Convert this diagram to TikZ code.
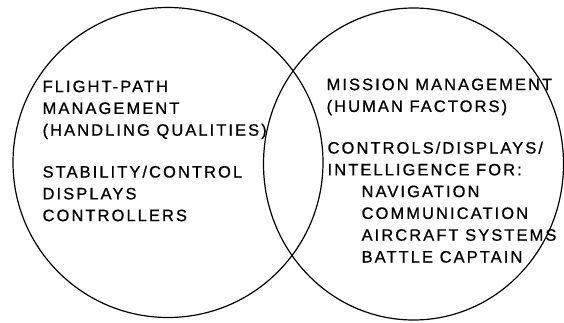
\documentclass[tikz,border=0pt]{standalone}
\usepackage{fontspec}
\setmainfont{Liberation Sans}[LetterSpace=12.5, FakeBold=0.8]
\begin{document}
\begin{tikzpicture}[x=1pt, y=-1pt, line width=1.2pt,
    every node/.style={inner sep=0pt, anchor=north west, align=left, font=\fontsize{16.5}{21.8}\selectfont}]
				\useasboundingbox (0,0) rectangle (564,323);

				\draw[black] (168,162.5) circle[radius=155];
				\draw[black] (413.5,164) ellipse[x radius=150, y radius=156];

				\node (flight) at (42,80) {FLIGHT-PATH\\MANAGEMENT\\(HANDLING QUALITIES)};
				\node (stab) at (42,165) {STABILITY/CONTROL\\DISPLAYS\\CONTROLLERS};

				\node (mission) at (326,78) {MISSION MANAGEMENT\\(HUMAN FACTORS)};
				\node (intel) at (327,141) {CONTROLS/DISPLAYS/\\INTELLIGENCE FOR:};
				\node (tasks) at (361,185) {NAVIGATION\\COMMUNICATION\\AIRCRAFT SYSTEMS\\BATTLE CAPTAIN};
			\end{tikzpicture}
\end{document}
